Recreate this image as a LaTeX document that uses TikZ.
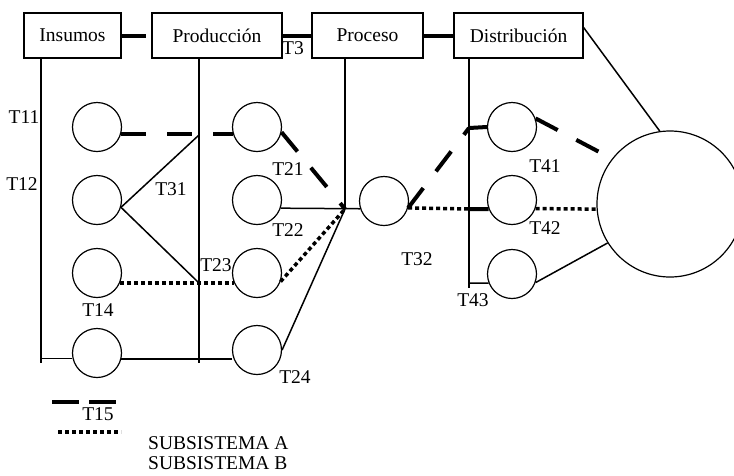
\documentclass[tikz,border=0pt]{standalone}
\usepackage{fontspec}
\setmainfont{Liberation Serif}
\begin{document}
\begin{tikzpicture}[x=1pt,y=-1pt,
    font=\fontsize{19.5}{22}\selectfont,
    ring/.style={circle,draw,line width=1.2pt,minimum size=49pt,inner sep=0pt},
    stagebox/.style={draw,line width=1.2pt,minimum height=45pt,inner sep=0pt},
    link/.style={line width=4pt},
    axis/.style={line width=2.4pt},
    tie/.style={line width=1.5pt},
    lineA/.style={line width=4pt,dash pattern=on 25pt off 21pt},
    lineB/.style={line width=3.5pt,dash pattern=on 4pt off 3pt}]
    \clip (0,0) rectangle (734,475);
    % etapas
    \node[stagebox,minimum width=97pt] (ins) at (72.5,35.5) {Insumos};
    \node[stagebox,minimum width=130pt] (prod) at (217,35.5) {Producción};
    \node[stagebox,minimum width=111pt] (proc) at (367.5,35.5) {Proceso};
    \node[stagebox,minimum width=129pt] (dist) at (518.5,35.5) {Distribución};
    \draw[link,shorten >=5pt] (ins) -- (prod);
    \draw[link] (prod) -- (proc);
    \draw[link] (proc) -- (dist);
    % ejes verticales
    \coordinate (vi) at (41,363);
    \coordinate (vp) at (199,363);
    \coordinate (vr) at (345,209);
    \coordinate (vd) at (469,288);
    \draw[axis] (ins.south -| vi) -- (vi);
    \draw[axis] (prod.south -| vp) -- (vp);
    \draw[tie] (proc.south -| vr) -- (vr);
    \draw[line width=2pt] (dist.south -| vd) -- (vd);
    \coordinate (ja) at (199,135);
    \coordinate (jb) at (199,283);
    \coordinate (jd1) at (469,128);
    \coordinate (jd2) at (469,209);
    \coordinate (jd3) at (469,283);
    \coordinate (b0) at (41,358.5);
    % circulos
    \foreach \i/\x/\y in {11/97/127, 12/97/200, 13/97/273, 14/97/353, 21/257/127, 22/257/200,
                          23/257/273, 24/257/350, 3/384/201, 41/512/127, 42/512/200, 43/512/274}{
      \node[ring] (c\i) at (\x,\y) {};
    }
    \node[ring,minimum size=146pt] (mkt) at (670,204) {};
    % subsistema A
    \draw[lineA] (c11.-17) -- (c21.197);
    \draw[lineA] (c21.-12) -- (vr);
    \draw[lineA] (c3.-16) -- (jd1);
    \draw[lineA] (c41.20) -- (mkt.142);
    % subsistema B
    \draw[lineB] (c13.-24) -- (c23.204);
    \draw[lineB] (c23.-20) -- (vr);
    \draw[lineB] (c3.-16) -- (jd2);
    \draw[lineB] (c42.-20) -- (mkt.184);
    % lineas
    \draw[tie] (c12.-17) -- (ja);
    \draw[tie] (c12.-17) -- (jb);
    \draw[tie] (c22.-19) -- (c3.198);
    \draw[tie] (c24.east) -- (vr);
    \draw[tie] (b0) -- (b0 -| c14.west);
    \draw[line width=2pt] (c14.-14) -- (c14.-14 -| c24.west);
    \draw[link] (jd1) -- (c41.west);
    \draw[link] (jd2) -- (c42.201);
    \draw[tie] (jd3) -- (c43.201);
    \draw[tie] (c43.-20) -- (mkt.212);
    \draw[tie] (dist.7) -- (mkt.98);
    % etiquetas
    \foreach \t/\x/\y in {T11/24/117, T12/22/184, T31/171/189, T21/288/169, T22/288/230,
                          T3/293/48, T23/216/265, T14/98/310, T24/295/377, T15/98/414,
                          T32/417/259, T41/545/166, T42/545/228, T43/473/300}{
      \node[inner sep=0pt] (l\t) at (\x,\y) {\t};
    }
    % leyenda
    \coordinate (la1) at (52,402);
    \coordinate (la2) at (116,402);
    \coordinate (lb1) at (58,432);
    \coordinate (lb2) at (121,432);
    \draw[lineA,dash pattern=on 27pt off 10pt] (la1) -- (la2);
    \draw[lineB] (lb1) -- (lb2);
    \node[anchor=west,inner sep=0pt] (sa) at (148,443) {SUBSISTEMA A};
    \node[anchor=west,inner sep=0pt] (sb) at (148,463) {SUBSISTEMA B};
\end{tikzpicture}
\end{document}
